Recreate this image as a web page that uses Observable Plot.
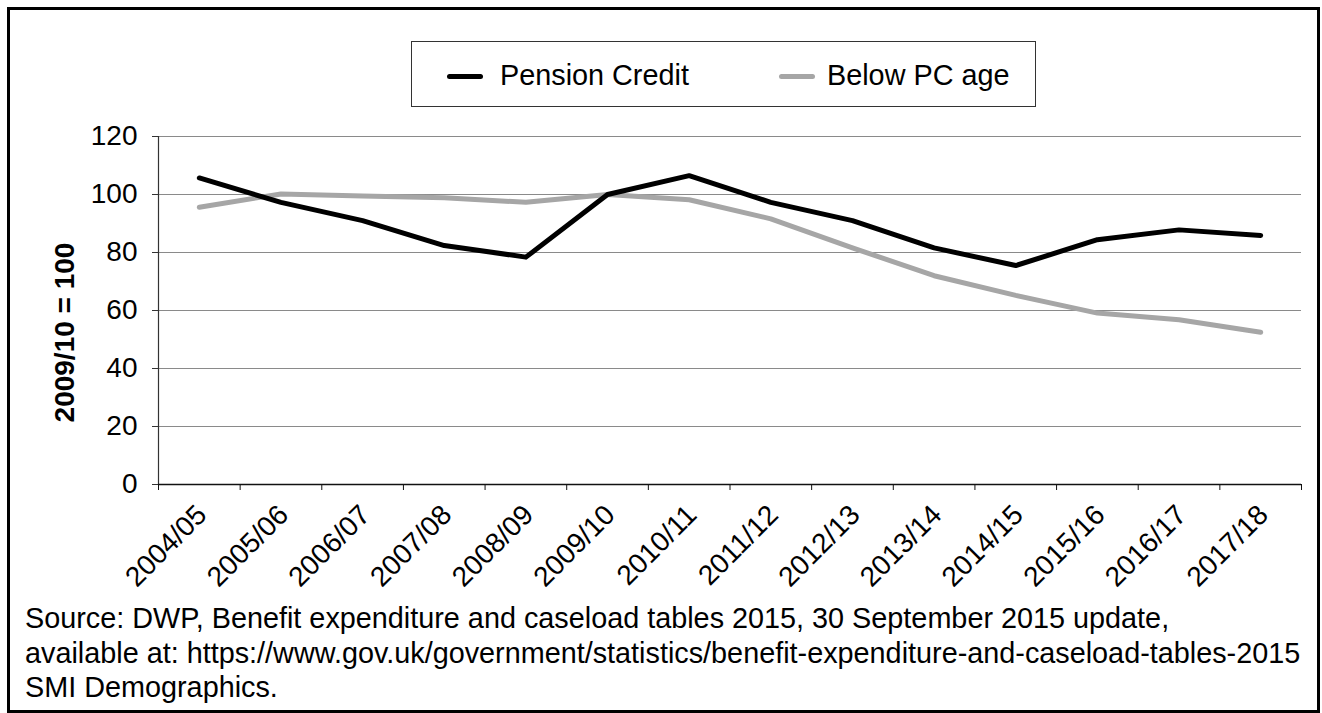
<!DOCTYPE html>
<html><head><meta charset="utf-8">
<script src="https://cdn.jsdelivr.net/npm/d3@7"></script>
<script src="https://cdn.jsdelivr.net/npm/@observablehq/plot@0.6"></script>
<style>
body{margin:0;background:#fff;font-family:"Liberation Sans",Arial,sans-serif;}
#frame{position:absolute;left:7px;top:7px;width:1313px;height:706px;border:3px solid #000;box-sizing:border-box;pointer-events:none;}
#chart{position:absolute;left:0;top:0;}
#legend{position:absolute;left:411px;top:41px;width:625px;height:66px;border:1.5px solid #333;box-sizing:border-box;background:#fff;}
.sw{position:absolute;height:5px;border-radius:3px;top:32px;}
.lt{position:absolute;top:16px;font-size:28.8px;line-height:34px;color:#000;white-space:nowrap;}
#caption{position:absolute;left:25px;top:601px;font-size:28.8px;line-height:34.5px;color:#000;white-space:nowrap;}
</style></head>
<body>
<div id="chart"></div>
<div id="legend"></div>
<div id="caption"></div>
<div id="frame"></div>
<script>
const years = ["2004/05","2005/06","2006/07","2007/08","2008/09","2009/10","2010/11","2011/12","2012/13","2013/14","2014/15","2015/16","2016/17","2017/18"];
const pensionCredit = [105.7, 97.3, 91.0, 82.4, 78.4, 100, 106.5, 97.3, 91.0, 81.6, 75.5, 84.4, 87.8, 85.9];
const belowPCAge = [95.6, 100.2, 99.5, 98.9, 97.3, 100, 98.2, 91.6, 81.6, 72.0, 65.2, 59.1, 56.8, 52.5];
const yTicks = [0, 20, 40, 60, 80, 100, 120];
const seriesNames = ["Pension Credit", "Below PC age"];
const seriesColors = ["#000000", "#a6a6a6"];
const yTitle = "2009/10 = 100";
const captionLines = [
  "Source: DWP, Benefit expenditure and caseload tables 2015, 30 September 2015 update,",
  "available at: https://www.gov.uk/government/statistics/benefit-expenditure-and-caseload-tables-2015",
  "SMI Demographics."
];

const rows = years.map((yr, i) => ({x: i + 0.5, year: yr, pc: pensionCredit[i], below: belowPCAge[i]}));
const centers = years.map((_, i) => i + 0.5);
const bounds = d3.range(years.length + 1);

const chart = Plot.plot({
  width: 1322,
  height: 600,
  marginTop: 136,
  marginBottom: 116,
  marginLeft: 158,
  marginRight: 21,
  style: {fontFamily: "Liberation Sans, Arial, sans-serif", fontSize: "28px", background: "transparent", overflow: "visible"},
  x: {type: "linear", domain: [0, years.length], label: null},
  y: {domain: [0, 120], label: null},
  marks: [
    Plot.gridY(yTicks.filter(d => d > 0), {stroke: "#8a8a8a", strokeOpacity: 1, strokeWidth: 1}),
    Plot.ruleX([0], {stroke: "#333", strokeWidth: 1.2}),
    Plot.axisY({ticks: yTicks, tickSize: 6, tickPadding: 15, fontSize: 28, stroke: "#333", label: null, tickFormat: d => String(d)}),
    Plot.axisX({ticks: bounds, tickSize: 6, tickFormat: () => "", stroke: "#111", label: null}),
    Plot.axisX({ticks: centers, tickSize: 0, tickPadding: 18, dx: -5, tickRotate: -45, textAnchor: "end", lineAnchor: "top", fontSize: 28, label: null, tickFormat: d => years[Math.round(d - 0.5)]}),
    Plot.ruleY([0], {stroke: "#111", strokeWidth: 1.5}),
    Plot.line(rows, {x: "x", y: "below", stroke: seriesColors[1], strokeWidth: 5, strokeLinecap: "round", strokeLinejoin: "round"}),
    Plot.line(rows, {x: "x", y: "pc", stroke: seriesColors[0], strokeWidth: 5, strokeLinecap: "round", strokeLinejoin: "round"}),
    Plot.text([yTitle], {frameAnchor: "left", rotate: -90, dx: -93, dy: 22, textAnchor: "middle", lineAnchor: "middle", fontWeight: "bold", fontSize: 28, fill: "#000"})
  ]
});
document.getElementById("chart").appendChild(chart);

// legend
const legend = document.getElementById("legend");
const swX = [35, 367];
const txX = [88, 415];
seriesNames.forEach((name, i) => {
  const sw = document.createElement("div");
  sw.className = "sw";
  sw.style.left = swX[i] + "px";
  sw.style.width = "36px";
  sw.style.background = seriesColors[i];
  legend.appendChild(sw);
  const t = document.createElement("div");
  t.className = "lt";
  t.style.left = txX[i] + "px";
  t.textContent = name;
  legend.appendChild(t);
});

const cap = document.getElementById("caption");
captionLines.forEach(l => { const d = document.createElement("div"); d.textContent = l; cap.appendChild(d); });
</script>
</body></html>
